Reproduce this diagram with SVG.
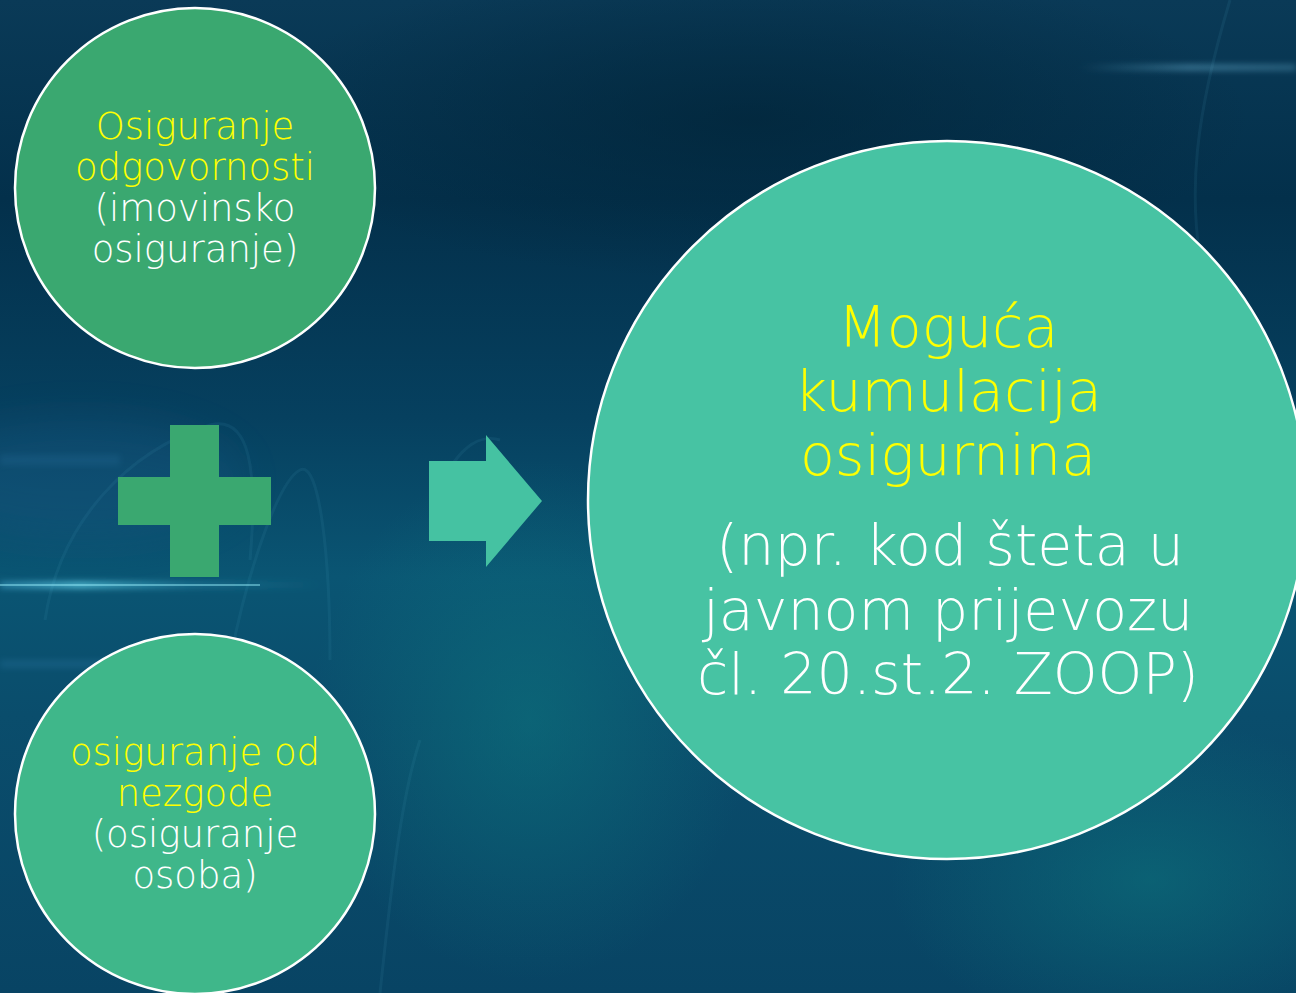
<svg xmlns="http://www.w3.org/2000/svg" width="1296" height="993" viewBox="0 0 1296 993">
  <defs>
    <linearGradient id="bg" x1="0" y1="0" x2="0" y2="1">
      <stop offset="0" stop-color="#0a3a57"/>
      <stop offset="0.2" stop-color="#03304b"/>
      <stop offset="0.42" stop-color="#06405f"/>
      <stop offset="0.58" stop-color="#0a5573"/>
      <stop offset="0.72" stop-color="#0a4d6c"/>
      <stop offset="1" stop-color="#084464"/>
    </linearGradient>
    <radialGradient id="glowTeal" cx="0.5" cy="0.5" r="0.5">
      <stop offset="0" stop-color="#0d7a80" stop-opacity="0.5"/>
      <stop offset="1" stop-color="#0d7a80" stop-opacity="0"/>
    </radialGradient>
    <radialGradient id="darkTop" cx="0.5" cy="0.5" r="0.5">
      <stop offset="0" stop-color="#012438" stop-opacity="0.7"/>
      <stop offset="1" stop-color="#012438" stop-opacity="0"/>
    </radialGradient>
    <linearGradient id="streakL" x1="0" y1="0" x2="1" y2="0">
      <stop offset="0" stop-color="#4fb8e0" stop-opacity="0.5"/>
      <stop offset="0.25" stop-color="#5fd0e8" stop-opacity="0.9"/>
      <stop offset="0.6" stop-color="#3aa7c8" stop-opacity="0.35"/>
      <stop offset="1" stop-color="#3aa7c8" stop-opacity="0"/>
    </linearGradient>
    <linearGradient id="streakR" x1="0" y1="0" x2="1" y2="0">
      <stop offset="0" stop-color="#6fb8d8" stop-opacity="0"/>
      <stop offset="0.5" stop-color="#6fb8d8" stop-opacity="0.55"/>
      <stop offset="1" stop-color="#6fb8d8" stop-opacity="0.4"/>
    </linearGradient>
    <filter id="blur6" x="-20%" y="-200%" width="140%" height="500%">
      <feGaussianBlur stdDeviation="3"/>
    </filter>
    <filter id="blur20" x="-50%" y="-50%" width="200%" height="200%">
      <feGaussianBlur stdDeviation="20"/>
    </filter>
  </defs>
  <style>
    .node { stroke: #ffffff; stroke-width: 2.5; }
    .t { font-family: "DejaVu Sans", "Liberation Sans", sans-serif; font-weight: 200; text-anchor: middle; }
    .small { font-size: 37px; }
    .big { font-size: 57px; }
    .y { fill: #ffff00; }
    .w { fill: #ffffff; }
  </style>

  <!-- background -->
  <rect x="0" y="0" width="1296" height="993" fill="url(#bg)"/>
  <ellipse cx="750" cy="120" rx="500" ry="160" fill="url(#darkTop)"/>
  <ellipse cx="1150" cy="880" rx="260" ry="160" fill="url(#glowTeal)"/>
  <ellipse cx="530" cy="720" rx="220" ry="260" fill="url(#glowTeal)"/>
  <ellipse cx="80" cy="480" rx="160" ry="60" fill="#1a5a88" opacity="0.3" filter="url(#blur20)"/>
  <g fill="none" stroke="#4aa8c0" stroke-opacity="0.1" stroke-width="3">
    <path d="M45 620 C 60 520, 130 450, 210 425 C 250 415, 258 470, 250 560"/>
    <path d="M230 660 C 250 560, 280 480, 300 470 C 320 460, 330 560, 330 660"/>
    <path d="M430 520 C 440 470, 470 430, 500 440"/>
    <path d="M380 993 C 390 900, 400 800, 420 740"/>
    <path d="M620 520 C 700 480, 900 520, 1000 560"/>
    <path d="M1230 0 C 1200 100, 1180 200, 1210 300"/>
  </g>
  <rect x="0" y="582" width="320" height="6" fill="url(#streakL)" filter="url(#blur6)"/>
  <rect x="0" y="584" width="260" height="2" fill="#8fe6f4" opacity="0.5"/>
  <rect x="0" y="660" width="260" height="8" fill="#3f8cc0" opacity="0.2" filter="url(#blur6)"/>
  <rect x="1080" y="65" width="216" height="5" fill="url(#streakR)" filter="url(#blur6)"/>
  <rect x="0" y="455" width="120" height="10" fill="#3f8cc0" opacity="0.15" filter="url(#blur6)"/>

  <!-- nodes -->
  <g id="node-liability">
    <circle class="node" cx="195" cy="188" r="180" fill="#3aa870"/>
    <text class="t small y" x="195" y="139">Osiguranje</text>
    <text class="t small y" x="195" y="180">odgovornosti</text>
    <text class="t small w" x="195" y="221">(imovinsko</text>
    <text class="t small w" x="195" y="262">osiguranje)</text>
  </g>

  <g id="node-plus">
    <path d="M170 425 H219 V477 H271 V525 H219 V577 H170 V525 H118 V477 H170 Z" fill="#3aa870"/>
  </g>

  <g id="node-accident">
    <circle class="node" cx="195" cy="814" r="180" fill="#3fb78a"/>
    <text class="t small y" x="195" y="765">osiguranje od</text>
    <text class="t small y" x="195" y="806">nezgode</text>
    <text class="t small w" x="195" y="847">(osiguranje</text>
    <text class="t small w" x="195" y="888">osoba)</text>
  </g>

  <g id="connectors">
    <path d="M429 461 H486 V435 L542 501 L486 567 V541 H429 Z" fill="#45c2a2"/>
  </g>

  <g id="node-result">
    <circle class="node" cx="947" cy="500" r="359" fill="#47c3a3"/>
    <text class="t big y" x="948" y="347">Moguća</text>
    <text class="t big y" x="948" y="411">kumulacija</text>
    <text class="t big y" x="948" y="475">osigurnina</text>
    <text class="t big w" x="950" y="565">(npr. kod šteta u</text>
    <text class="t big w" x="948" y="630">javnom prijevozu</text>
    <text class="t big w" x="948" y="694">čl. 20.st.2. ZOOP)</text>
  </g>
</svg>
